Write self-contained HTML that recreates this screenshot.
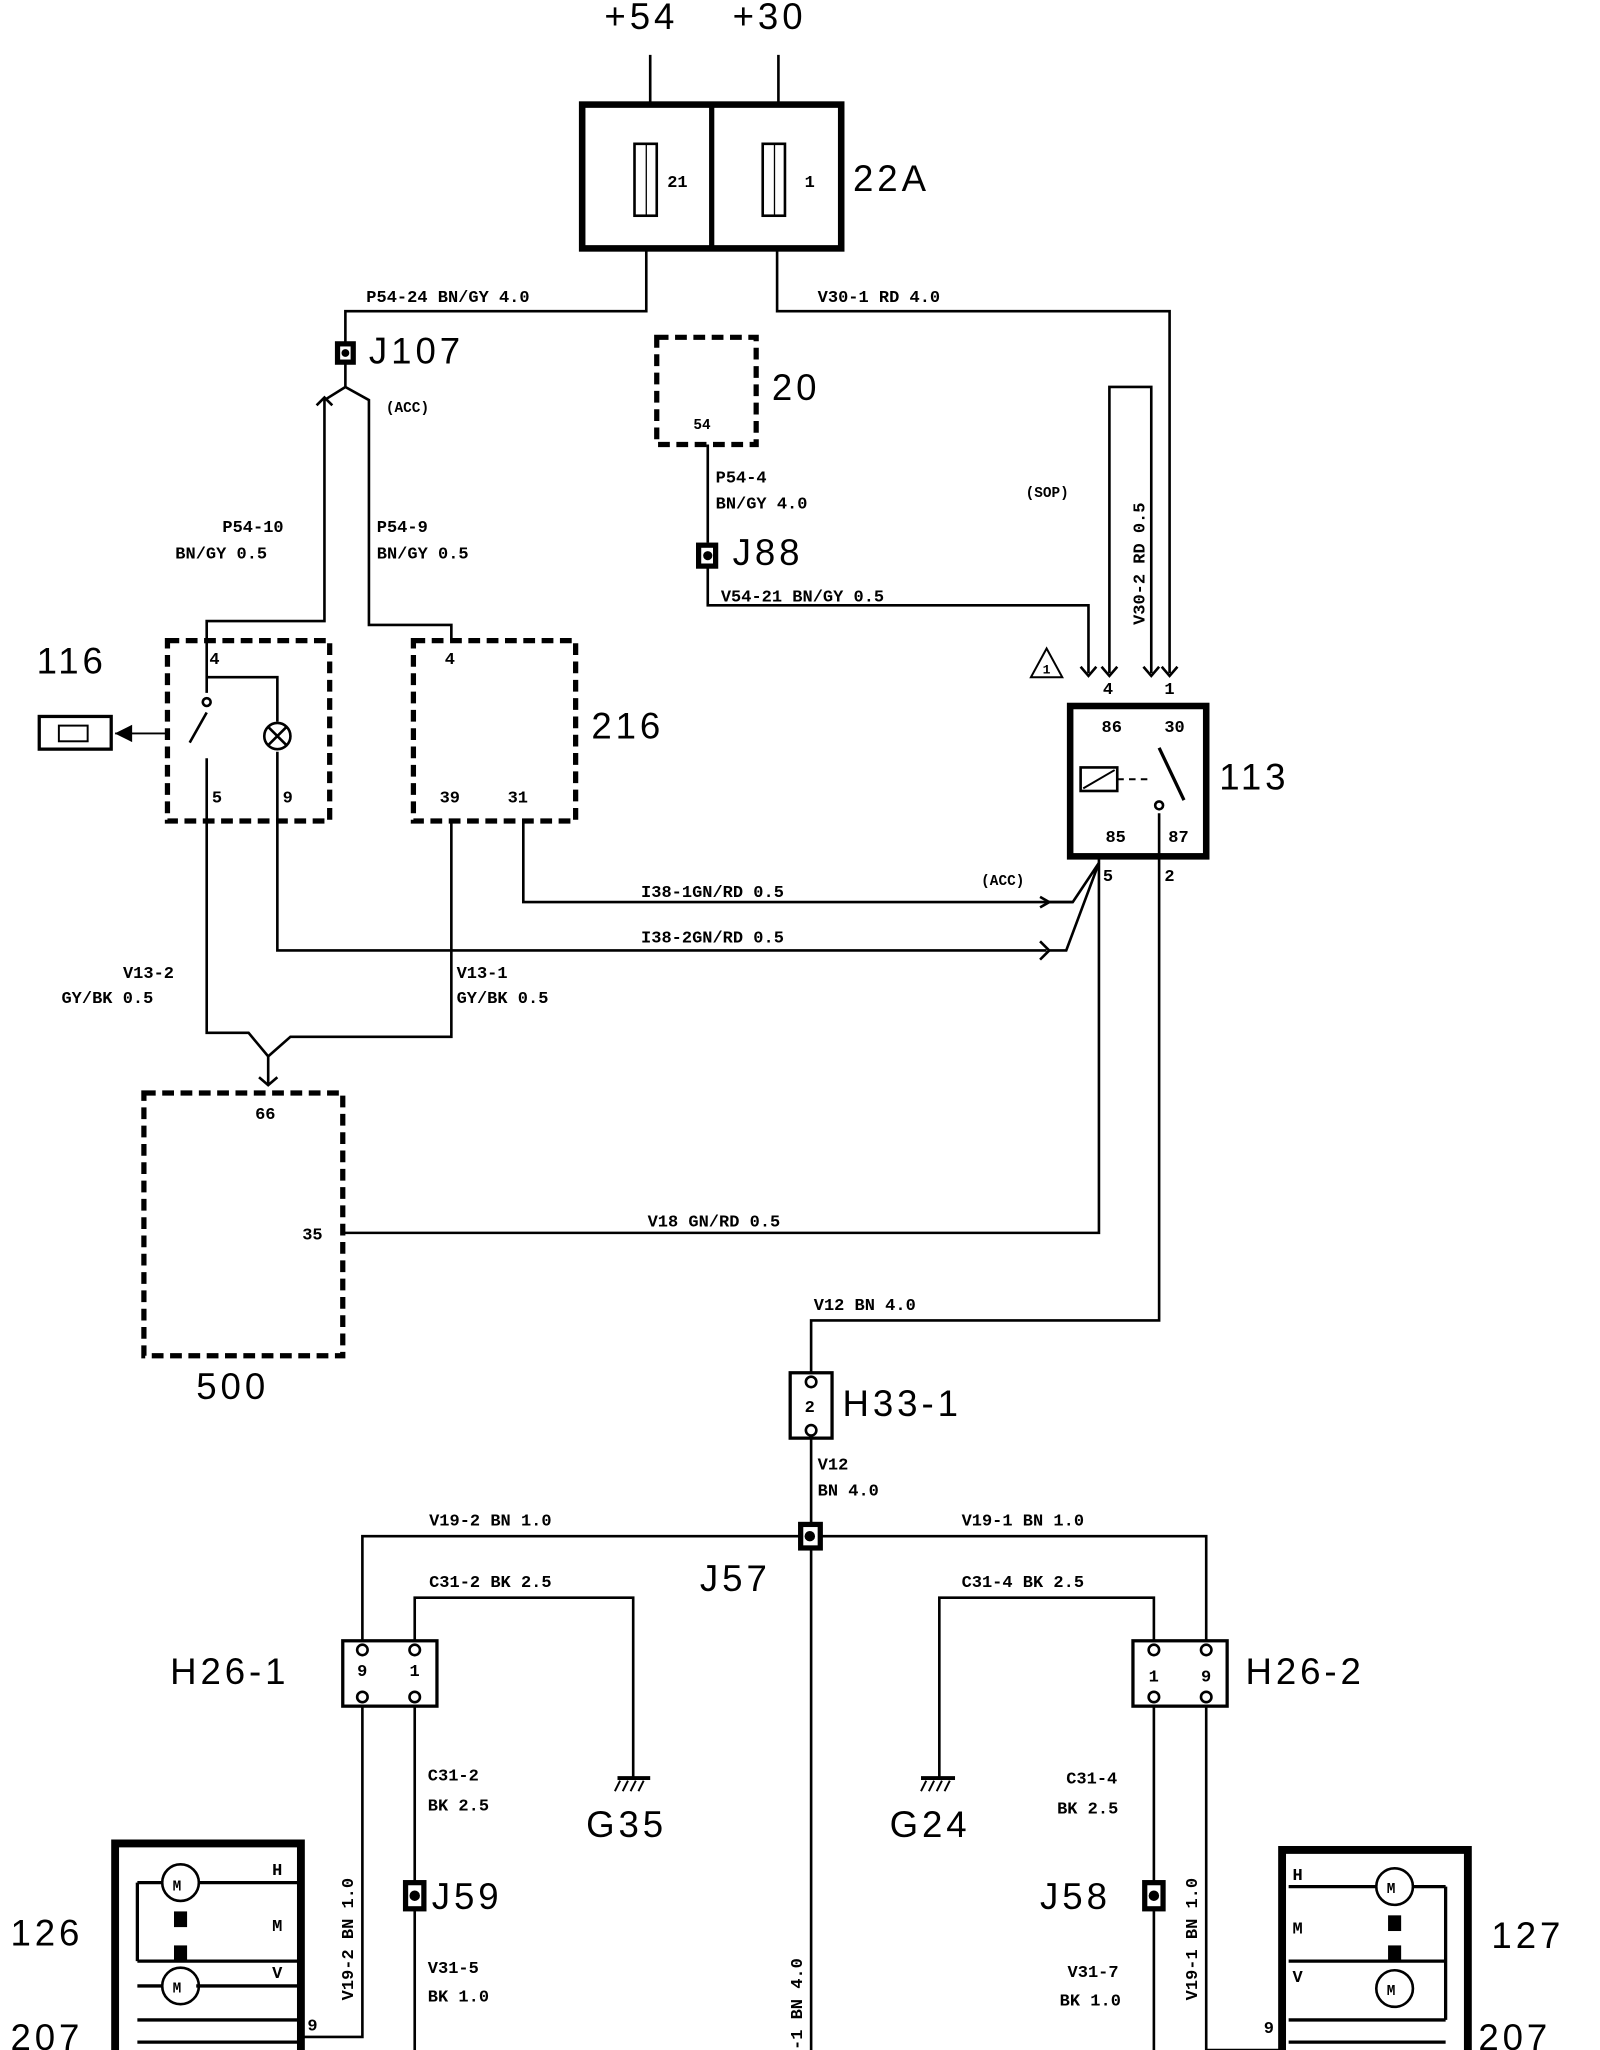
<!DOCTYPE html>
<html><head><meta charset="utf-8"><style>
html,body{margin:0;padding:0;background:#fff;width:1600px;height:2050px;overflow:hidden}
svg{display:block}
text{font-family:"Liberation Mono",monospace;fill:#000}
.s{font-size:13px;font-weight:bold}
.b{font-size:28px;font-family:"Liberation Sans",sans-serif;letter-spacing:3px}
</style></head><body>
<svg width="1600" height="2050" viewBox="0 0 1223 1568" preserveAspectRatio="none" xmlns="http://www.w3.org/2000/svg">
<g fill="none" stroke="#000" stroke-width="2">
<path d="M497 42V80M595 42V80"/>
<rect x="445" y="80" width="198" height="110" stroke-width="5"/>
<path d="M544 80V190" stroke-width="4"/>
<rect x="485" y="110" width="17" height="55"/><rect x="583" y="110" width="17" height="55"/>
<path d="M494 110V165M592 110V165" stroke-width="1"/>
<path d="M494 190V238H264V262"/>
<path d="M594 190V238H894V515"/>
<path d="M264 278V296L248 306V475H158V490M264 296L282 306V478H345V490"/>
<path d="M242 310L248 304L254 310"/>
<rect x="502" y="258" width="76" height="82" stroke-width="4" stroke-dasharray="9,5"/>
<path d="M541 340V415M541 432V463H832V515"/>
<path d="M848 515V296H880V515"/>
<path d="M826 510L832 517L838 510M842 510L848 517L854 510M874 510L880 517L886 510M888 510L894 517L900 510"/>
<path d="M788 518L800 496L812 518Z" stroke-width="1.5"/>
<rect x="818" y="540" width="104" height="115" stroke-width="5"/>
<rect x="826" y="587" width="28" height="18"/><path d="M828 603L852 589" stroke-width="1.5"/>
<path d="M854 596H880" stroke-dasharray="5,4" stroke-width="1.5"/>
<path d="M886 572L905 612" stroke-width="2.5"/>
<circle cx="886" cy="616" r="3"/>
<rect x="128" y="490" width="124" height="138" stroke-width="4" stroke-dasharray="9,5"/>
<path d="M158 490V530M158 545L145 568M158 580V628" />
<circle cx="158" cy="537" r="3"/>
<path d="M158 518H212V552M212 575V628"/>
<circle cx="212" cy="563" r="10"/><path d="M205 556L219 570M219 556L205 570"/>
<rect x="30" y="548" width="55" height="25" stroke-width="2.5"/>
<rect x="45" y="555" width="22" height="12" stroke-width="1.5"/>
<path d="M88 561H128" stroke-width="1.5"/><path d="M90 561L100 556V566Z" fill="#000"/>
<rect x="316" y="490" width="124" height="138" stroke-width="4" stroke-dasharray="9,5"/>
<path d="M400 628V690H820M212 628V727H800"/>
<path d="M795 686L802 690L795 694M795 720L802 727L795 734"/>
<path d="M802 690L820 690L840 660M802 727H815L840 660"/>
<path d="M840 655V943H262"/>
<path d="M158 628V790H190L205 808M345 628V793H222L205 808V830"/>
<path d="M198 824L205 830L212 824"/>
<rect x="110" y="836" width="152" height="201" stroke-width="4" stroke-dasharray="9,5"/>
<path d="M886 622V1010H620V1050"/>
<rect x="604" y="1050" width="32" height="50" stroke-width="2.5"/>
<circle cx="620" cy="1057" r="4"/><circle cx="620" cy="1094" r="4"/>
<path d="M620 1100V1568"/>
<path d="M277 1255V1175H922V1255"/>
<path d="M317 1255V1222H484V1360M882 1255V1222H718V1360"/>
<path d="M472 1360H497M704 1360H730" stroke-width="3"/>
<path d="M474 1362L470 1370M480 1362L476 1370M486 1362L482 1370M492 1362L488 1370M708 1362L704 1370M714 1362L710 1370M720 1362L716 1370M726 1362L722 1370" stroke-width="1.5"/>
<rect x="262" y="1255" width="72" height="50" stroke-width="2.5"/>
<rect x="866" y="1255" width="72" height="50" stroke-width="2.5"/>
<circle cx="277" cy="1262" r="4"/><circle cx="317" cy="1262" r="4"/><circle cx="277" cy="1298" r="4"/><circle cx="317" cy="1298" r="4"/>
<circle cx="882" cy="1262" r="4"/><circle cx="922" cy="1262" r="4"/><circle cx="882" cy="1298" r="4"/><circle cx="922" cy="1298" r="4"/>
<path d="M277 1305V1558H230M317 1305V1568M882 1305V1568M922 1305V1568H980"/>
<path d="M88 1568V1410H230V1568" stroke-width="6"/>
<path d="M105 1440H228M105 1500H228M105 1545H228M105 1440V1500" stroke-width="2.5"/>
<circle cx="138" cy="1440" r="14" fill="#fff"/><circle cx="138" cy="1519" r="14" fill="#fff"/>
<path d="M150 1519H228M105 1519H124" stroke-width="2.5"/>
<path d="M105 1562H228" stroke-width="2.5"/>
<path d="M980 1568V1415H1122V1568" stroke-width="6"/>
<path d="M985 1443H1105M985 1500H1105M985 1545H1105M1105 1443V1545" stroke-width="2.5"/>
<circle cx="1066" cy="1443" r="14" fill="#fff"/><circle cx="1066" cy="1521" r="14" fill="#fff"/>
<path d="M985 1562H1105" stroke-width="2.5"/>
</g>
<g fill="#000">
<rect x="256" y="261" width="16" height="18"/><rect x="260" y="265" width="8" height="10" fill="#fff"/><circle cx="264" cy="270" r="3"/>
<rect x="532" y="415" width="17" height="20"/><rect x="536" y="419" width="9" height="12" fill="#fff"/><circle cx="541" cy="425" r="3.5"/>
<rect x="610" y="1164" width="19" height="22"/><rect x="614" y="1168" width="11" height="14" fill="#fff"/><circle cx="619" cy="1175" r="4"/>
<rect x="308" y="1438" width="18" height="24"/><rect x="312" y="1442" width="10" height="16" fill="#fff"/><circle cx="317" cy="1450" r="4"/>
<rect x="873" y="1438" width="18" height="24"/><rect x="877" y="1442" width="10" height="16" fill="#fff"/><circle cx="882" cy="1450" r="4"/>
<rect x="133" y="1462" width="10" height="12"/><rect x="133" y="1488" width="10" height="12"/>
<rect x="1061" y="1465" width="10" height="12"/><rect x="1061" y="1488" width="10" height="12"/>
</g>
<text class="b" x="462" y="22">+54</text><text class="b" x="560" y="22">+30</text>
<text class="s" x="510" y="143">21</text><text class="s" x="615" y="143">1</text>
<text class="b" x="652" y="146">22A</text>
<text class="s" x="280" y="231">P54-24 BN/GY 4.0</text>
<text class="s" x="625" y="231">V30-1 RD 4.0</text>
<text class="b" x="282" y="278">J107</text>
<text class="s" x="295" y="315" style="font-size:11px">(ACC)</text>
<text class="s" x="530" y="328" style="font-size:11px">54</text>
<text class="b" x="590" y="306">20</text>
<text class="s" x="547" y="369">P54-4</text><text class="s" x="547" y="389">BN/GY 4.0</text>
<text class="b" x="560" y="432">J88</text>
<text class="s" x="551" y="460">V54-21 BN/GY 0.5</text>
<text class="s" x="784" y="380" style="font-size:11px">(SOP)</text>
<text class="s" transform="translate(875,478) rotate(-90)">V30-2 RD 0.5</text>
<text class="s" x="797" y="515" style="font-size:10px">1</text>
<text class="s" x="843" y="531">4</text><text class="s" x="890" y="531">1</text>
<text class="s" x="842" y="560">86</text><text class="s" x="890" y="560">30</text>
<text class="s" x="845" y="644">85</text><text class="s" x="893" y="644">87</text>
<text class="s" x="843" y="674">5</text><text class="s" x="890" y="674">2</text>
<text class="b" x="932" y="604">113</text>
<text class="s" x="170" y="407">P54-10</text><text class="s" x="134" y="427">BN/GY 0.5</text>
<text class="s" x="288" y="407">P54-9</text><text class="s" x="288" y="427">BN/GY 0.5</text>
<text class="b" x="28" y="515">116</text>
<text class="s" x="160" y="508">4</text><text class="s" x="162" y="614">5</text><text class="s" x="216" y="614">9</text>
<text class="s" x="340" y="508">4</text><text class="s" x="336" y="614">39</text><text class="s" x="388" y="614">31</text>
<text class="b" x="452" y="565">216</text>
<text class="s" x="750" y="677" style="font-size:11px">(ACC)</text>
<text class="s" x="490" y="686">I38-1GN/RD 0.5</text>
<text class="s" x="490" y="721">I38-2GN/RD 0.5</text>
<text class="s" x="94" y="748">V13-2</text><text class="s" x="47" y="767">GY/BK 0.5</text>
<text class="s" x="349" y="748">V13-1</text><text class="s" x="349" y="767">GY/BK 0.5</text>
<text class="s" x="195" y="856">66</text><text class="s" x="231" y="948">35</text>
<text class="b" x="150" y="1070">500</text>
<text class="s" x="495" y="938">V18 GN/RD 0.5</text>
<text class="s" x="622" y="1002">V12 BN 4.0</text>
<text class="s" x="615" y="1080">2</text>
<text class="b" x="644" y="1083">H33-1</text>
<text class="s" x="625" y="1124">V12</text><text class="s" x="625" y="1144">BN 4.0</text>
<text class="s" x="328" y="1167">V19-2 BN 1.0</text><text class="s" x="735" y="1167">V19-1 BN 1.0</text>
<text class="b" x="535" y="1217">J57</text>
<text class="s" x="328" y="1214">C31-2 BK 2.5</text><text class="s" x="735" y="1214">C31-4 BK 2.5</text>
<text class="b" x="130" y="1288">H26-1</text><text class="b" x="952" y="1288">H26-2</text>
<text class="s" x="273" y="1282">9</text><text class="s" x="313" y="1282">1</text>
<text class="s" x="878" y="1286">1</text><text class="s" x="918" y="1286">9</text>
<text class="s" x="327" y="1362">C31-2</text><text class="s" x="327" y="1385">BK 2.5</text>
<text class="s" x="815" y="1364">C31-4</text><text class="s" x="808" y="1387">BK 2.5</text>
<text class="b" x="448" y="1405">G35</text><text class="b" x="680" y="1405">G24</text>
<text class="s" transform="translate(270,1530) rotate(-90)">V19-2 BN 1.0</text>
<text class="s" transform="translate(915,1530) rotate(-90)">V19-1 BN 1.0</text>
<text class="s" transform="translate(613,1568) rotate(-90)">-1 BN 4.0</text>
<text class="b" x="330" y="1460">J59</text><text class="b" x="795" y="1460">J58</text>
<text class="s" x="327" y="1509">V31-5</text><text class="s" x="327" y="1531">BK 1.0</text>
<text class="s" x="816" y="1512">V31-7</text><text class="s" x="810" y="1534">BK 1.0</text>
<text class="b" x="8" y="1488">126</text><text class="b" x="1140" y="1490">127</text>
<text class="b" x="8" y="1568">207</text><text class="b" x="1130" y="1568">207</text>
<text class="s" x="208" y="1434">H</text><text class="s" x="208" y="1477">M</text><text class="s" x="208" y="1513">V</text>
<text class="s" x="988" y="1438">H</text><text class="s" x="988" y="1479">M</text><text class="s" x="988" y="1516">V</text>
<text class="s" x="235" y="1553">9</text><text class="s" x="966" y="1555">9</text>
<text class="s" x="132" y="1446" style="font-size:11px">M</text><text class="s" x="132" y="1524" style="font-size:11px">M</text>
<text class="s" x="1060" y="1448" style="font-size:11px">M</text><text class="s" x="1060" y="1526" style="font-size:11px">M</text>
</svg>
</body></html>
